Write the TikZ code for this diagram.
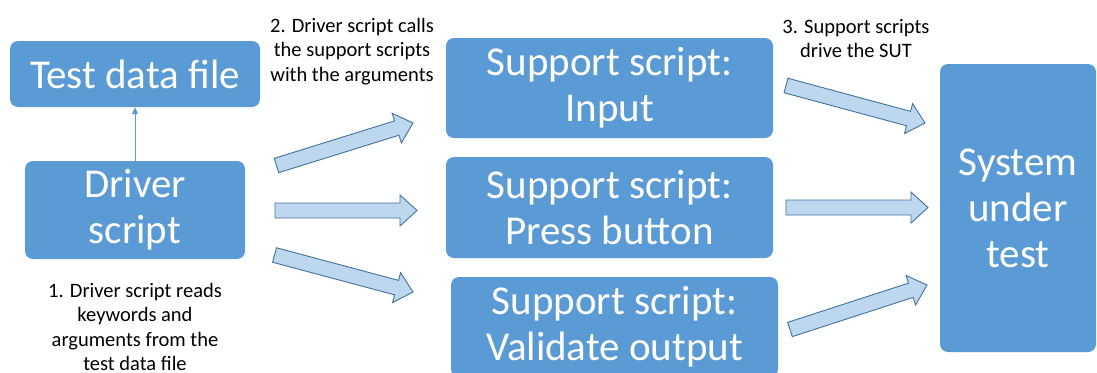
\documentclass[tikz,border=0pt]{standalone}
\usepackage{fontspec}
\setmainfont{Carlito}
\usetikzlibrary{calc,arrows.meta}
\definecolor{boxblue}{HTML}{5B9BD5}
\definecolor{arrfill}{HTML}{BDD7EE}
\definecolor{arredge}{HTML}{41719C}
\newcommand\blockarr[2]{%
  \coordinate (hb) at ($(#2)!17pt!(#1)$);
  \draw[barrow] ($(#1)!7.5pt!90:(#2)$) -- ($(hb)!7.5pt!90:(#2)$) -- ($(hb)!15.5pt!90:(#2)$)
    -- (#2) -- ($(hb)!15.5pt!-90:(#2)$) -- ($(hb)!7.5pt!-90:(#2)$) -- ($(#1)!7.5pt!-90:(#2)$) -- cycle;}
\begin{document}
\begin{tikzpicture}[x=1pt,y=-1pt,
  box/.style={fill=boxblue, rounded corners=8pt, text=white, align=center, inner sep=0pt,
    font=\fontsize{41}{46}\selectfont},
  note/.style={align=center, inner sep=0pt, text=black, font=\fontsize{20.5}{24.5}\selectfont},
  barrow/.style={fill=arrfill, draw=arredge, line width=0.9pt, line join=miter},
  link/.style={draw=boxblue, line width=1pt, -{Triangle[length=7pt,width=6pt]}}]
\useasboundingbox (0,0) rectangle (1097,372);
\clip (0,0) rectangle (1097,372);

\node[box, minimum width=250pt, minimum height=66pt] (data) at (135,74) {Test data file};
\node[box, minimum width=220pt, minimum height=98pt] (driver) at (135,210) {Driver\\script};
\node[box, minimum width=327pt, minimum height=100pt] (input) at (609.5,88) {Support script:\\Input};
\node[box, minimum width=327pt, minimum height=101pt] (press) at (609.5,207.5) {Support script:\\Press button};
\node[box, minimum width=327pt, minimum height=100pt] (valid) at (614.5,327) {Support script:\\Validate output};
\node[box, minimum width=156pt, minimum height=288pt] (sut) at (1018,208) {System\\under\\test};

\node[note, anchor=north] (n1) at (135,283) {1. Driver script reads\\keywords and\\arguments from the\\test data file};
\node[note, anchor=north] (n2) at (352,18) {2. Driver script calls\\the support scripts\\with the arguments};
\node[note, anchor=north] (n3) at (856,19) {3. Support scripts\\drive the SUT};

\draw[link] (driver.north) -- (data.south);

\coordinate (a1s) at (276.5,165.5); \coordinate (a1e) at (413,123);
\coordinate (a2s) at (275,210.5);   \coordinate (a2e) at (417,210.5);
\coordinate (a3s) at (274.5,255);   \coordinate (a3e) at (413,292);
\coordinate (a4s) at (786,85.5);    \coordinate (a4e) at (925,123);
\coordinate (a5s) at (786,207.5);   \coordinate (a5e) at (928,207.5);
\coordinate (a6s) at (790,329.5);   \coordinate (a6e) at (927,285);
\blockarr{a1s}{a1e}
\blockarr{a2s}{a2e}
\blockarr{a3s}{a3e}
\blockarr{a4s}{a4e}
\blockarr{a5s}{a5e}
\blockarr{a6s}{a6e}
\end{tikzpicture}
\end{document}
